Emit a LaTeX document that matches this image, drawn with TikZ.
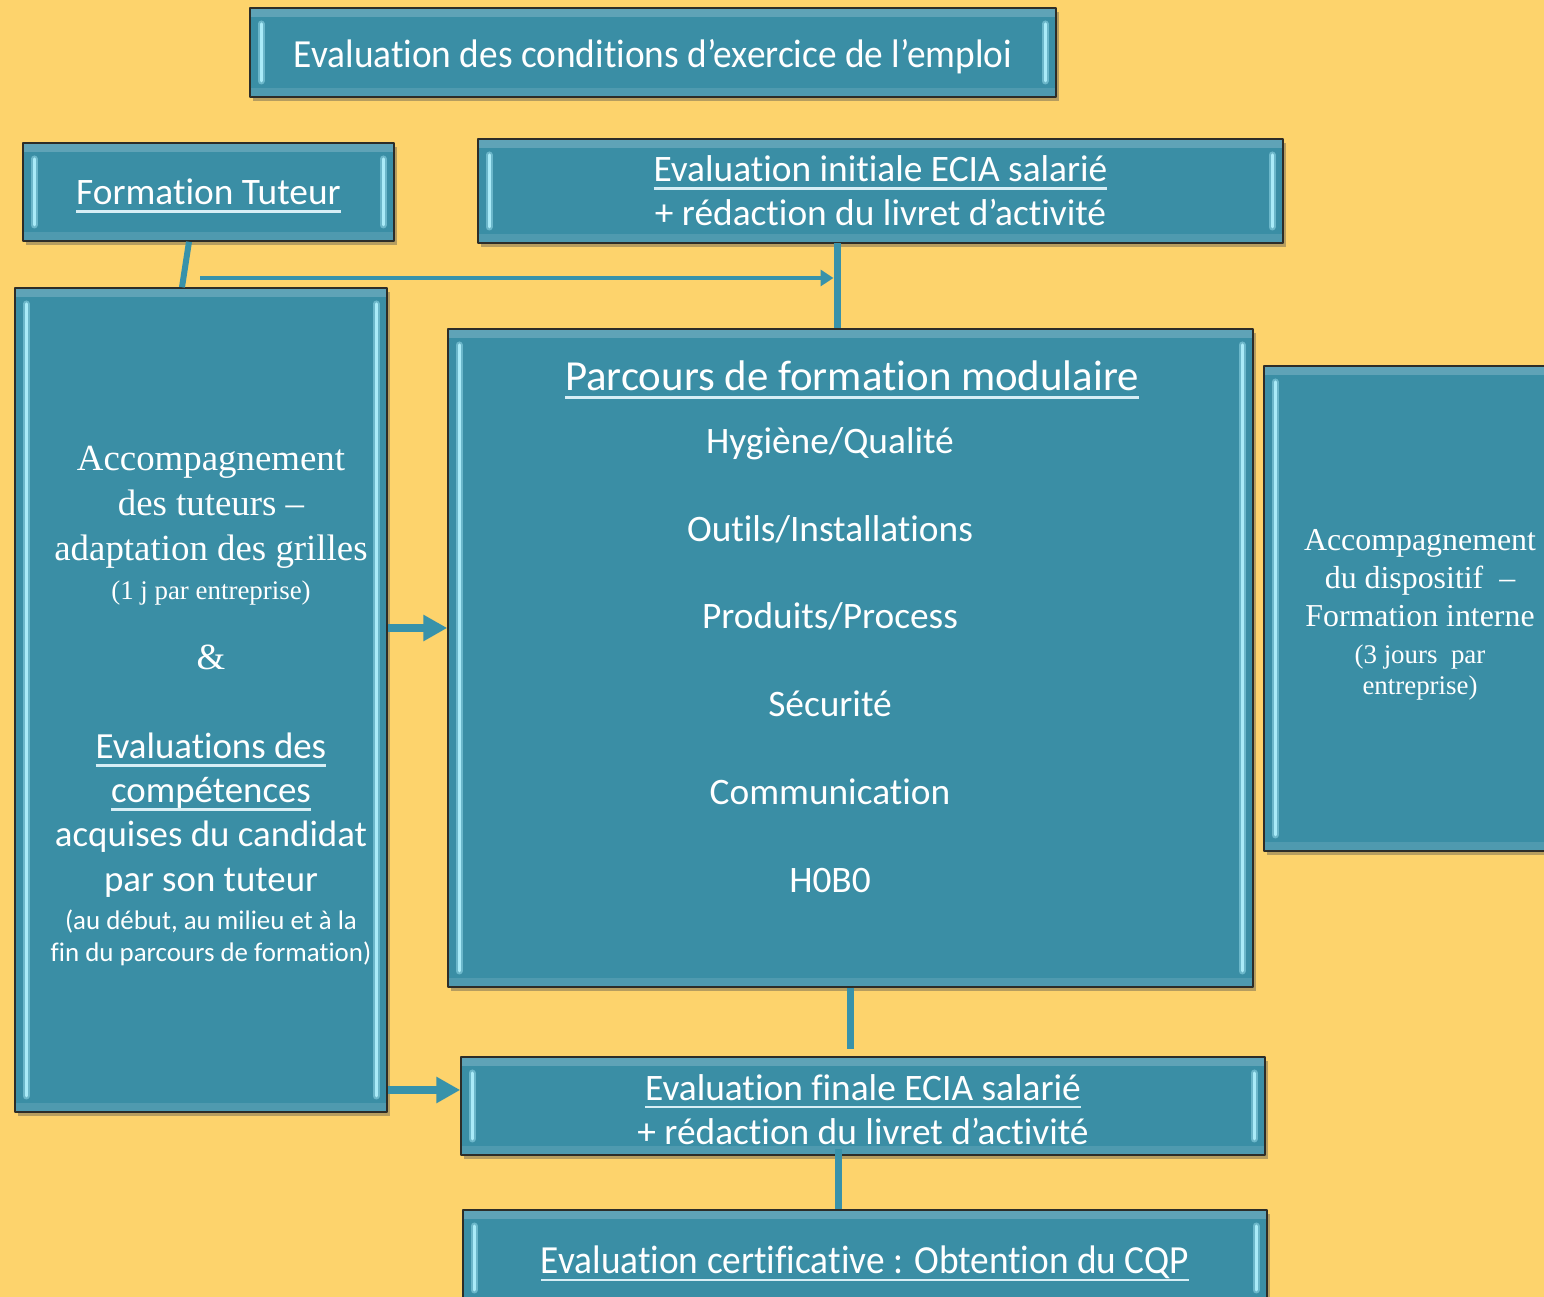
\documentclass[tikz,border=0pt]{standalone}
\usepackage{fontspec}
\setmainfont{Carlito}[Ligatures={NoCommon}]
\newfontfamily\tnr{Liberation Serif}
\usepackage{graphicx}
\usepackage{tikz}
\usetikzlibrary{shapes,arrows.meta,shadows,calc}

\definecolor{fond}{RGB}{253,211,108}
\definecolor{boxteal}{RGB}{58,142,165}
\definecolor{boxedge}{RGB}{45,45,40}
\definecolor{bevelhi}{RGB}{170,235,248}
\definecolor{bevelmid}{RGB}{120,178,196}
\definecolor{linkcol}{RGB}{56,146,170}
\definecolor{ulcol}{RGB}{215,238,245}

\newcommand\souligne[1]{\setbox0=\hbox{#1}\rlap{\textcolor{ulcol}{\rule[-8bp]{\wd0}{2.5bp}}}\box0}
\newcommand\etroit[1]{\scalebox{0.937}[1]{#1}}

\tikzset{
  etape/.style={rectangle, fill=boxteal, draw=boxedge, line width=1.5bp, text=white,
    inner sep=0pt, align=center,
    drop shadow={shadow xshift=3bp, shadow yshift=-4bp, opacity=.4, fill=black!70},
    path picture={
      \coordinate (nw) at (path picture bounding box.north west);
      \coordinate (se) at (path picture bounding box.south east);
      \fill[bevelmid, opacity=.6] (nw) rectangle ($(se |- nw)+(0,-9bp)$);
      \fill[bevelmid, opacity=.35] ($(nw |- se)+(0,9bp)$) rectangle (se);
      \draw[bevelhi, opacity=.45, line width=7bp, line cap=round] ($(nw)+(11bp,-16bp)$) -- ($(nw |- se)+(11bp,16bp)$);
      \draw[bevelhi, opacity=.45, line width=7bp, line cap=round] ($(se |- nw)+(-11bp,-16bp)$) -- ($(se)+(-11bp,16bp)$);
      \draw[bevelhi, line width=3bp, line cap=round] ($(nw)+(11bp,-16bp)$) -- ($(nw |- se)+(11bp,16bp)$);
      \draw[bevelhi, line width=3bp, line cap=round] ($(se |- nw)+(-11bp,-16bp)$) -- ($(se)+(-11bp,16bp)$);
    }},
  texte/.style={text=white, align=center, inner sep=0pt},
  sans37/.style={font=\fontsize{37.5}{44}\selectfont},
  lien/.style={draw=linkcol, line width=7bp},
  fleche/.style={draw=linkcol, line width=8bp, -{Triangle[length=24bp,width=25bp]}},
}

\begin{document}
\begin{tikzpicture}[line join=bevel]
%%
\useasboundingbox (0bp,0bp) rectangle (1544bp,1297bp);
\fill [fond] (0bp,0bp) rectangle (1544bp,1297bp);
  \node (cond) at (653bp,1244.5bp) [etape, minimum width=806bp, minimum height=89bp, text height=38bp, text depth=8bp, font=\fontsize{40}{48}\selectfont] {\etroit{Evaluation des conditions d’exercice de l’emploi}};
  \node (tuteur) at (208.5bp,1105bp) [etape, minimum width=371bp, minimum height=98bp, text height=34bp, text depth=8bp, sans37] {\souligne{Formation Tuteur}};
  \node (initiale) at (880.5bp,1106bp) [etape, minimum width=805bp, minimum height=104bp, sans37] {\souligne{Evaluation initiale ECIA salarié}\\ + rédaction du livret d’activité};
  \node (accomp) at (201bp,597bp) [etape, minimum width=372bp, minimum height=824bp] {};
  \node (accomptxt) at (211bp,591bp) [texte, font=\fontsize{37}{45}\selectfont] {%
    {\tnr Accompagnement}\\
    {\tnr des tuteurs –}\\
    {\tnr adaptation des grilles}\\[-6bp]
    {\tnr\fontsize{27}{30}\selectfont (1 j par entreprise)}\\[25bp]
    {\tnr\&}\\[45bp]
    \souligne{Evaluations des}\\[-1bp]
    \souligne{compétences}\\[-1bp]
    acquises du candidat\\
    par son tuteur\\[-7bp]
    {\fontsize{27}{30}\selectfont (au début, au milieu et à la}\\[-13bp]
    {\fontsize{27}{30}\selectfont fin du parcours de formation)}};
  \node (parcours) at (850.5bp,639bp) [etape, minimum width=805bp, minimum height=658bp] {};
  \node (parctitle) at (852bp,906bp) [anchor=base, texte, font=\fontsize{43}{50}\selectfont] {\souligne{Parcours de formation modulaire}};
  \node (modules) at (830bp,637bp) [texte, sans37] {%
    Hygiène/Qualité\\[44bp]
    Outils/Installations\\[44bp]
    Produits/Process\\[44bp]
    Sécurité\\[44bp]
    Communication\\[44bp]
    H0B0};
  \node (dispositif) at (1420bp,688.5bp) [etape, minimum width=312bp, minimum height=485bp] {};
  \node (dispotxt) at (1420bp,682bp) [texte, font=\fontsize{32}{38}\selectfont\tnr] {%
    Accompagnement\\
    du dispositif~ –\\
    Formation interne\\[-1bp]
    {\fontsize{27}{30}\selectfont (3 jours~ par}\\[-7bp]
    {\fontsize{27}{30}\selectfont entreprise)}};
  \node (finale) at (863bp,191bp) [etape, minimum width=804bp, minimum height=98bp, sans37] {\rule{0pt}{33bp}\souligne{Evaluation finale ECIA salarié}\\ + rédaction du livret d’activité};
  \node (certif) at (865bp,39bp) [etape, minimum width=804bp, minimum height=96bp, text height=38bp, text depth=8bp, font=\fontsize{40}{48}\selectfont] {\etroit{\souligne{Evaluation certificative : Obtention du CQP}}};
  \coordinate (tutaux) at (200bp,1019bp);
  \coordinate (initaux) at (837bp,1054bp);
  \coordinate (finaux) at (838bp,148bp);
  \draw [lien, line width=6bp] ([xshift=-19.5bp]tuteur.south) -- ([xshift=-19bp]accomp.north);
  \draw [lien] (initaux) -- (initaux |- parcours.north);
  \draw [fleche, line width=4.5bp, -{Triangle[length=13bp,width=16bp]}, shorten >=3.5bp] (tutaux) -- (tutaux -| initaux);
  \draw [fleche] ([yshift=72bp]accomp.east) -- ([yshift=30bp]parcours.west);
  \draw [fleche] ([yshift=-390bp]accomp.east) -- ([yshift=16bp]finale.west);
  \draw [lien] (parcours.south) -- ($(parcours.south |- finale.north)+(0,7bp)$);
  \draw [lien] (finaux) -- (finaux |- certif.north);
%
\end{tikzpicture}
\end{document}
